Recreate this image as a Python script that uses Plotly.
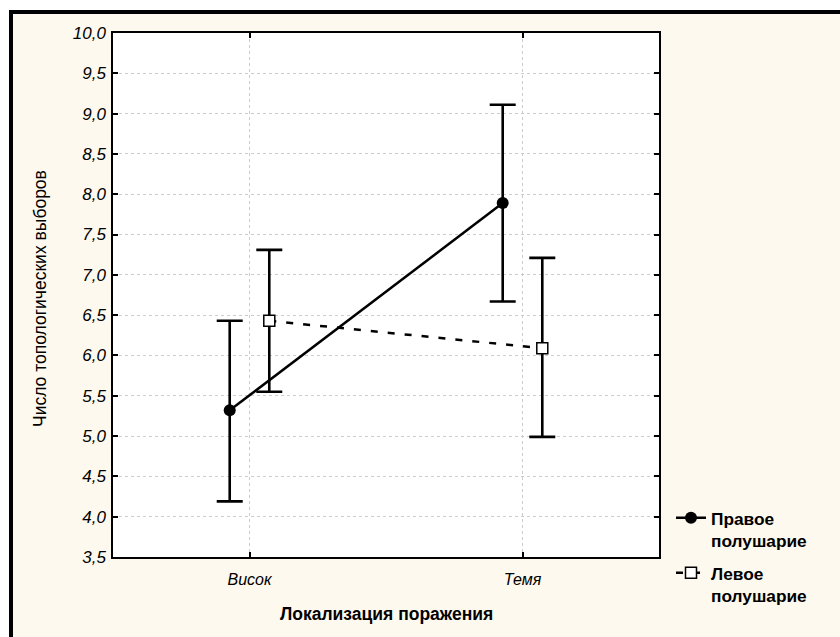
import plotly.graph_objects as go

categories = ["Висок", "Темя"]
right_mean = [5.32, 7.89]
right_low = [4.19, 6.67]
right_high = [6.43, 9.11]
left_mean = [6.43, 6.09]
left_low = [5.55, 4.99]
left_high = [7.31, 7.21]
series_names = ["Правое<br>полушарие", "Левое<br>полушарие"]
y_ticks = [3.5, 4.0, 4.5, 5.0, 5.5, 6.0, 6.5, 7.0, 7.5, 8.0, 8.5, 9.0, 9.5, 10.0]

BEIGE = "#FEF9EF"
FONT = "Liberation Sans, Arial, sans-serif"

def err(mean, low, high):
    return dict(type="data", symmetric=False,
                array=[h - m for h, m in zip(high, mean)],
                arrayminus=[m - l for m, l in zip(mean, low)],
                color="black", thickness=2.6, width=13)

fig = go.Figure()
fig.add_trace(go.Scatter(
    x=categories, y=right_mean, name=series_names[0], offsetgroup="r",
    mode="lines+markers", legend="legend",
    line=dict(color="black", width=2.5),
    marker=dict(symbol="circle", size=12, color="black"),
    error_y=err(right_mean, right_low, right_high)))
fig.add_trace(go.Scatter(
    x=categories, y=left_mean, name=series_names[1], offsetgroup="l",
    mode="lines+markers", legend="legend2",
    line=dict(color="black", width=2.5, dash="7px,10px"),
    marker=dict(symbol="square", size=11, color="white", line=dict(color="black", width=1.5)),
    error_y=err(left_mean, left_low, left_high)))

L, R, T, B = 113, 181, 33, 80
W, H = 840, 637
pw, ph = W - L - R, H - T - B

def px2x(p):
    return (p - L) / pw

def px2y(p):
    return (H - B - p) / ph

shapes = [
    dict(type="rect", xref="paper", yref="paper", x0=px2x(-5), x1=px2x(W + 5),
         y0=px2y(-5), y1=px2y(10), fillcolor="white", line_width=0, layer="below"),
    dict(type="rect", xref="paper", yref="paper", x0=px2x(-5), x1=px2x(9),
         y0=px2y(-5), y1=px2y(H + 5), fillcolor="white", line_width=0, layer="below"),
    dict(type="rect", xref="paper", yref="paper", x0=px2x(9), x1=px2x(W + 5),
         y0=px2y(14), y1=px2y(10), fillcolor="black", line_width=0, layer="below"),
    dict(type="rect", xref="paper", yref="paper", x0=px2x(9), x1=px2x(13),
         y0=px2y(H + 5), y1=px2y(10), fillcolor="black", line_width=0, layer="below"),
]

annotations = [
    dict(text="Локализация поражения", xref="paper", yref="paper", x=0.5, y=px2y(614),
         xanchor="center", yanchor="middle", showarrow=False,
         font=dict(family=FONT, size=17.5, color="black", weight="bold")),
    dict(text="Число топологических выборов", xref="paper", yref="paper", x=px2x(40),
         y=px2y(299), xanchor="center", yanchor="middle", textangle=-90, showarrow=False,
         font=dict(family=FONT, size=17.5, color="black")),
]

legend_font = dict(family=FONT, size=17.3, color="black", weight="bold")
fig.update_layout(
    width=W, height=H,
    margin=dict(l=L, r=R, t=T, b=B),
    paper_bgcolor=BEIGE, plot_bgcolor="white",
    scattermode="group", scattergap=0.71,
    separators=", ",
    showlegend=True,
    legend=dict(x=px2x(671), y=px2y(500), xanchor="left", yanchor="top",
                bgcolor="rgba(0,0,0,0)", valign="top",
                font=legend_font, itemwidth=30),
    legend2=dict(x=px2x(671), y=px2y(555), xanchor="left", yanchor="top",
                 bgcolor="rgba(0,0,0,0)", valign="top",
                 font=legend_font, itemwidth=30),
    shapes=shapes, annotations=annotations,
)
fig.update_xaxes(
    type="category", range=[-0.5, 1.5],
    showline=True, linecolor="black", linewidth=1.5, mirror="ticks",
    ticks="inside", ticklen=5, tickcolor="black", tickwidth=1.5,
    showgrid=True, gridcolor="#cccccc", griddash="dot", gridwidth=1,
    tickfont=dict(family=FONT, size=16, color="black", style="italic"),
    ticklabelstandoff=7,
    zeroline=False,
)
fig.update_yaxes(
    range=[3.5, 10.0], tickvals=y_ticks, tickformat=".1f",
    showline=True, linecolor="black", linewidth=1.5, mirror="ticks",
    ticks="inside", ticklen=5, tickcolor="black", tickwidth=1.5,
    showgrid=True, gridcolor="#cccccc", griddash="dot", gridwidth=1,
    tickfont=dict(family=FONT, size=17, color="black", style="italic"),
    ticklabelstandoff=2,
    zeroline=False,
)

fig.write_html("out.html", config={"displayModeBar": False},
               post_script="document.body.style.margin='0px';")
